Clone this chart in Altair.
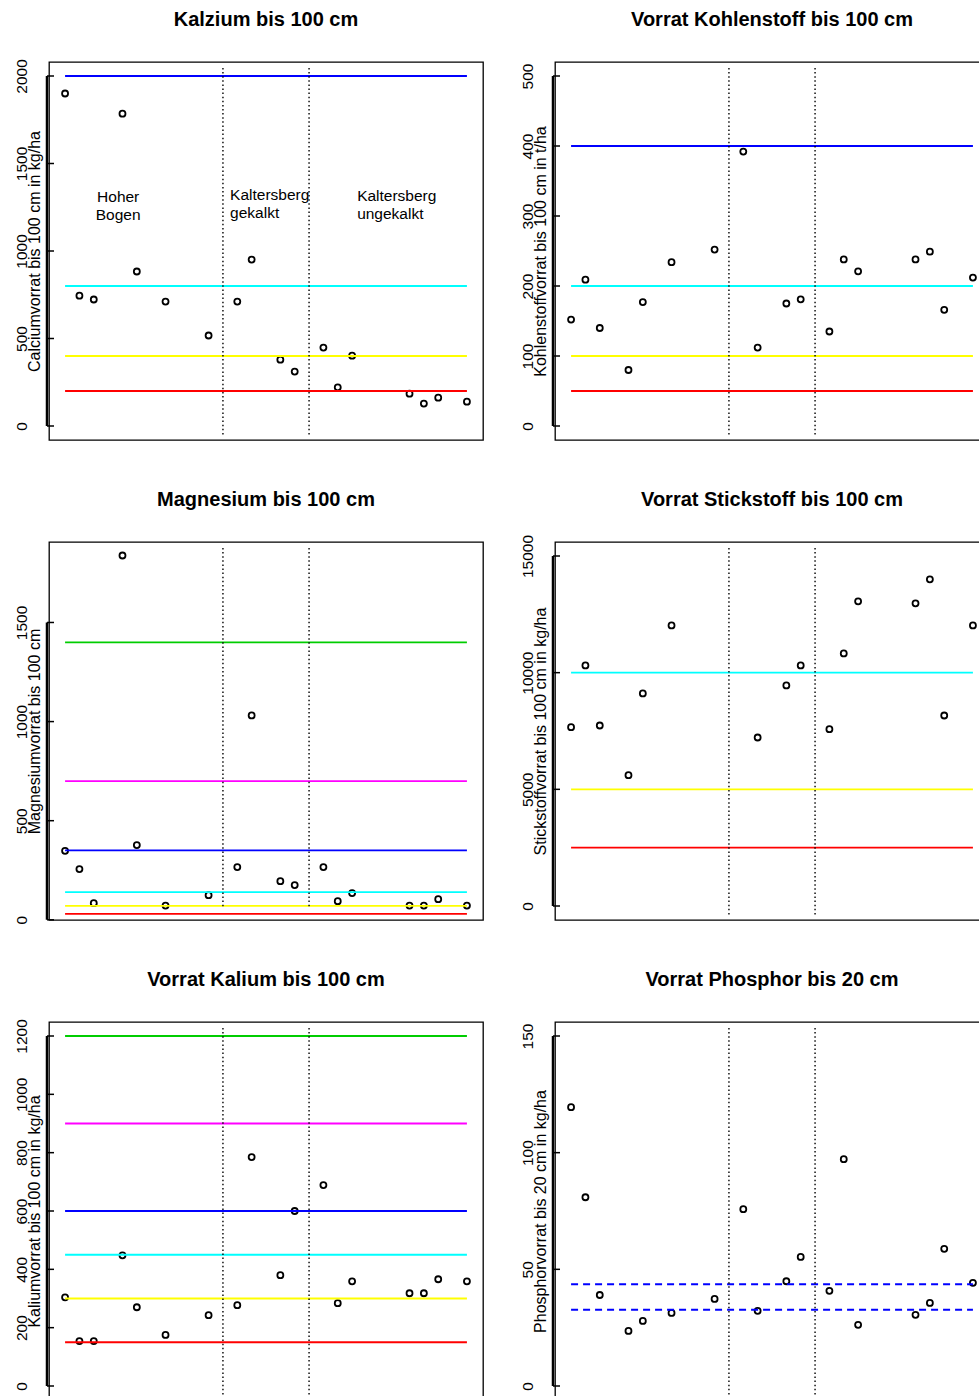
import altair as alt
import pandas as pd

# ---------------- data ----------------
IDX = [1, 2, 3, 5, 6, 8, 11, 13, 14, 16, 17, 19, 20, 21, 25, 26, 27, 29]

CALCIUM = [1900, 745, 723, 1785, 883, 711, 517, 711, 951, 379, 311, 448, 221, 402, 185, 128, 162, 139]
KOHLENSTOFF = [152, 209, 140, 80, 177, 234, 252, 392, 112, 175, 181, 135, 238, 221, 238, 249, 166, 212]
MAGNESIUM = [348, 256, 84, 1838, 377, 72, 124, 266, 1031, 195, 175, 266, 94, 135, 72, 72, 104, 72]
STICKSTOFF = [7665, 10310, 7736, 5606, 9109, 12026, None, None, 7222, 9452, 10310, 7579, 10825, 13056,
              12970, 14000, 8165, 12026]
KALIUM = [304, 154, 154, 448, 270, 175, 243, 277, 785, 380, 600, 689, 284, 359, 318, 318, 366, 359]
PHOSPHOR = [119.5, 80.9, 39, 23.6, 27.9, 31.3, 37.3, 75.8, 32.2, 44.9, 55.3, 40.8, 97.2, 26.2, 30.5, 35.6,
            58.8, 44.2]

CA_LINES = [2000, 800, 400, 200]
C_LINES = [400, 200, 100, 50]
MG_LINES = [1400, 700, 350, 140, 70, 30]
N_LINES = [10000, 5000, 2500]
K_LINES = [1200, 900, 600, 450, 300, 150]
P_LINES = [43.6, 32.7]

BLUE, CYAN, YELLOW, RED, GREEN, MAGENTA = "#0000FF", "#00FFFF", "#FFFF00", "#FF0000", "#00CD00", "#FF00FF"
CA_COLORS = [BLUE, CYAN, YELLOW, RED]
C_COLORS = [BLUE, CYAN, YELLOW, RED]
MG_COLORS = [GREEN, MAGENTA, BLUE, CYAN, YELLOW, RED]
N_COLORS = [CYAN, YELLOW, RED]
K_COLORS = [GREEN, MAGENTA, BLUE, CYAN, YELLOW, RED]
P_COLORS = [BLUE, BLUE]

LINE_START, LINE_END = 1, 29
GROUP_SPLITS = [12, 18]
X_DOMAIN = [-0.12, 30.12]

ANN_CENTER_X, ANN_CENTER_Y, ANN_CENTER_TEXT = [4.7], [1257], ["Hoher\nBogen"]
ANN_LEFT_X = [12.5, 21.35]
ANN_LEFT_Y = [1269, 1263]
ANN_LEFT_TEXT = ["Kaltersberg\ngekalkt", "Kaltersberg\nungekalkt"]

FONT = "Liberation Sans"
W, H = 434, 378
LABEL_FS = 15.5
TITLE_GAP = 16  # title offset when the top tick label stays inside the frame
PAGE_W, PAGE_H = 979, 1396
PAD_L, PAD_T = 49, 62


def label_overhang(domain, ticks):
    """How far the rotated top tick label sticks out above the frame (px)."""
    half_len = 0.556 * LABEL_FS * len(str(ticks[-1])) / 2
    dist_top = (domain[1] - ticks[-1]) / (domain[1] - domain[0]) * H
    return max(0.0, half_len - dist_top)


def panel(title, ytitle, vals, domain, ticks, lines, colors, dashed=False, vbottom=373, ann=False):
    xsc = alt.Scale(domain=X_DOMAIN, nice=False, zero=False)
    ysc = alt.Scale(domain=domain, nice=False, zero=False)
    yax = alt.Axis(
        values=ticks, format="d", ticks=False, domain=False, grid=False,
        labelAngle=270, labelAlign="center", labelBaseline="alphabetic",
        labelPadding=23, labelFont=FONT, labelFontSize=LABEL_FS, labelColor="black",
        labelOverlap=False, labelFlush=False,
        title=ytitle, titleAngle=270, titleX=-14.5, titleY=H / 2,
        titleAlign="center", titleBaseline="middle", titleFont=FONT,
        titleFontSize=16, titleFontWeight="normal", titleColor="black",
    )

    def Y(field):
        return alt.Y(field, scale=ysc, axis=yax)

    def X(field):
        return alt.X(field, scale=xsc, axis=None)

    df = pd.DataFrame({"i": IDX, "v": vals})
    pts = alt.Chart(df).mark_point(
        shape="circle", filled=False, color="black", size=36, strokeWidth=1.8, opacity=1
    ).encode(x=X("i:Q"), y=Y("v:Q"))

    hl = pd.DataFrame({"v": lines, "c": colors,
                       "x1": [LINE_START] * len(lines), "x2": [LINE_END] * len(lines)})
    rule_kw = dict(strokeWidth=1.8)
    if dashed:
        rule_kw = dict(strokeWidth=2, strokeDash=[7, 5])
    hrule = alt.Chart(hl).mark_rule(**rule_kw).encode(
        x=X("x1:Q"), x2="x2:Q", y=Y("v:Q"), color=alt.Color("c:N", scale=None)
    )
    vl = pd.DataFrame({"x": GROUP_SPLITS})
    vrule = alt.Chart(vl).mark_rule(strokeDash=[1.5, 2.6], strokeWidth=1.4, color="black").encode(
        x=X("x:Q"), y=alt.value(6), y2=alt.value(vbottom)
    )
    ax = pd.DataFrame({"v": [ticks[0]], "hi": [ticks[-1]]})
    axline = alt.Chart(ax).mark_rule(strokeWidth=2.5, color="black").encode(
        x=alt.value(-2), y=Y("v:Q"), y2="hi:Q"
    )
    tk = pd.DataFrame({"v": ticks})
    axticks = alt.Chart(tk).mark_rule(strokeWidth=1.5, color="black").encode(
        x=alt.value(-2), x2=alt.value(5), y=Y("v:Q")
    )
    layers = [pts, hrule, vrule, axline, axticks]
    if ann:
        a1 = pd.DataFrame({"x": ANN_CENTER_X, "v": ANN_CENTER_Y, "t": ANN_CENTER_TEXT})
        a2 = pd.DataFrame({"x": ANN_LEFT_X, "v": ANN_LEFT_Y, "t": ANN_LEFT_TEXT})
        tkw = dict(font=FONT, fontSize=15.5, color="black", lineBreak="\n", lineHeight=18,
                   baseline="middle", dy=-9)
        layers.append(alt.Chart(a1).mark_text(align="center", **tkw).encode(
            x=X("x:Q"), y=Y("v:Q"), text="t:N"))
        layers.append(alt.Chart(a2).mark_text(align="left", **tkw).encode(
            x=X("x:Q"), y=Y("v:Q"), text="t:N"))
    off = TITLE_GAP - label_overhang(domain, ticks)
    return alt.layer(*layers).properties(
        width=W, height=H,
        title=alt.TitleParams(text=title, font=FONT, fontSize=20, fontWeight="bold",
                              anchor="middle", baseline="alphabetic", offset=off, color="black"),
    )


p1 = panel("Kalzium bis 100 cm", "Calciumvorrat bis 100 cm in kg/ha", CALCIUM,
           [-80, 2080], [0, 500, 1000, 1500, 2000], CA_LINES, CA_COLORS, ann=True)
p2 = panel("Vorrat Kohlenstoff bis 100 cm", "Kohlenstoffvorrat bis 100 cm in t/ha", KOHLENSTOFF,
           [-20, 520], [0, 100, 200, 300, 400, 500], C_LINES, C_COLORS)
p3 = panel("Magnesium bis 100 cm", "Magnesiumvorrat bis 100 cm", MAGNESIUM,
           [-1, 1906], [0, 500, 1000, 1500], MG_LINES, MG_COLORS, vbottom=366)
p4 = panel("Vorrat Stickstoff bis 100 cm", "Stickstoffvorrat bis 100 cm in kg/ha", STICKSTOFF,
           [-600, 15600], [0, 5000, 10000, 15000], N_LINES, N_COLORS)
p5 = panel("Vorrat Kalium bis 100 cm", "Kaliumvorrat bis 100 cm in kg/ha", KALIUM,
           [-48, 1248], [0, 200, 400, 600, 800, 1000, 1200], K_LINES, K_COLORS)
p6 = panel("Vorrat Phosphor bis 20 cm", "Phosphorvorrat bis 20 cm in kg/ha", PHOSPHOR,
           [-6, 156], [0, 50, 100, 150], P_LINES, P_COLORS, dashed=True)

HS = 35
top_rows = alt.vconcat(
    alt.hconcat(p1, p2, spacing=HS),
    alt.hconcat(p3, p4, spacing=HS),
    spacing=48,
)
chart = alt.vconcat(
    top_rows,
    alt.hconcat(p5, p6, spacing=HS),
    spacing=44,
).properties(
    autosize=alt.AutoSizeParams(type="none"),
    padding={"left": PAD_L, "top": PAD_T, "right": PAGE_W - PAD_L, "bottom": PAGE_H - PAD_T},
    background="white",
).configure_view(stroke="black", strokeWidth=1.3)

chart.save("out.html", embed_options={"renderer": "svg", "actions": False})
